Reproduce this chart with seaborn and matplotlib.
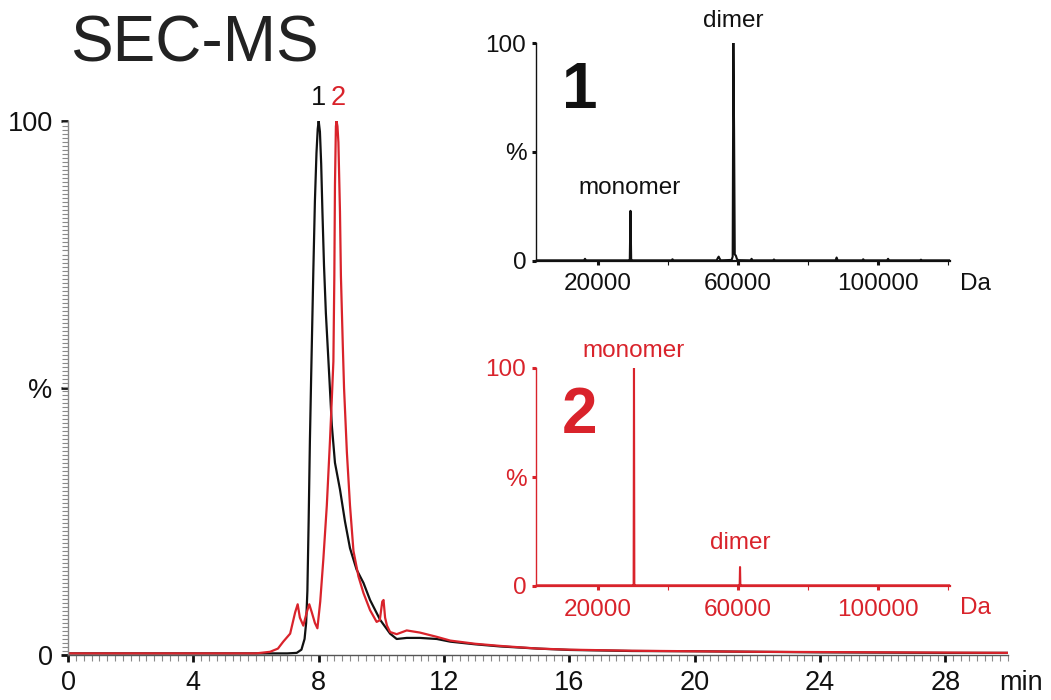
import matplotlib
matplotlib.use("Agg")
import matplotlib.pyplot as plt
from matplotlib.ticker import MultipleLocator, FixedLocator
import pandas as pd
import seaborn as sns

# ---- SEC chromatograms (relative intensity, %) ----
time_1 = [0.0, 2.0, 4.0, 6.0, 7.0, 7.3, 7.45, 7.55, 7.60, 7.64, 7.68, 7.72, 7.76,
          7.83, 7.88, 7.93, 7.97, 8.00, 8.04, 8.08, 8.12, 8.17, 8.23, 8.34, 8.42,
          8.52, 8.68, 8.84, 9.00, 9.21, 9.43, 9.64, 9.96, 10.28, 10.49, 10.81,
          11.23, 11.77, 12.2, 13.0, 13.8, 15.0, 16.0, 18.0, 20.0, 22.0, 24.0,
          26.0, 28.0, 30.0]
signal_1 = [0.3, 0.3, 0.3, 0.3, 0.3, 0.4, 1.0, 3.0, 6.0, 12.0, 25.0, 40.0, 52.0,
            72.0, 85.0, 94.0, 98.5, 100.0, 98.0, 92.0, 83.0, 73.0, 64.0, 52.0, 43.0,
            36.0, 31.0, 25.0, 20.0, 16.0, 13.5, 10.3, 6.6, 4.0, 3.0, 3.2,
            3.2, 3.0, 2.5, 2.0, 1.6, 1.2, 0.95, 0.75, 0.7, 0.6, 0.5,
            0.45, 0.4, 0.4]

time_2 = [0.0, 2.0, 4.0, 6.0, 6.45, 6.7, 6.87, 7.09, 7.25, 7.33, 7.40, 7.51, 7.62,
          7.70, 7.78, 7.88, 7.96, 8.05, 8.15, 8.26, 8.36, 8.42, 8.47, 8.50, 8.52,
          8.55, 8.57, 8.60, 8.63, 8.68, 8.71, 8.77, 8.81, 8.84, 8.90, 9.00, 9.11,
          9.27, 9.43, 9.64, 9.85, 9.95, 10.03, 10.07, 10.12, 10.18, 10.28, 10.49,
          10.81, 11.23, 11.77, 12.2, 13.0, 13.8, 15.0, 16.0, 18.0, 20.0, 22.0,
          24.0, 26.0, 28.0, 30.0]
signal_2 = [0.3, 0.3, 0.3, 0.3, 0.6, 1.2, 2.5, 4.0, 8.0, 9.5, 7.0, 5.5, 8.0,
            9.5, 8.0, 6.0, 5.0, 10.0, 18.0, 28.0, 40.0, 48.0, 55.0, 71.0, 88.0,
            99.0, 100.0, 99.0, 96.0, 83.0, 71.0, 58.0, 50.0, 46.0, 38.0, 28.0, 19.5,
            14.7, 11.6, 8.4, 6.2, 6.5, 10.0, 10.3, 7.0, 5.5, 4.3, 3.9,
            4.6, 4.2, 3.4, 2.7, 2.1, 1.7, 1.2, 1.0, 0.8, 0.7, 0.6,
            0.55, 0.5, 0.45, 0.4]

time_ticks = [0, 4, 8, 12, 16, 20, 24, 28]
pct_ticks = [0, 50, 100]
pct_labels = ["0", "%", "100"]

# ---- deconvoluted mass spectra (relative abundance, %) ----
mass_1 = [2300, 16000, 16300, 16600, 28900, 29100, 29300, 29500, 29700,
          41000, 41300, 41600, 53900, 54200, 54500, 54800, 55100,
          58200, 58500, 58700, 58900, 59100, 59400, 59700, 60000,
          63600, 63900, 64200, 70000, 70300, 70600, 87900, 88200, 88500,
          95500, 95800, 96100, 102600, 102900, 103200, 112000, 112300, 112600,
          120600]
abund_1 = [0.3, 0.3, 1.0, 0.3, 0.3, 0.5, 23.0, 0.5, 0.3,
           0.3, 0.8, 0.3, 0.3, 1.2, 2.0, 1.0, 0.3,
           0.5, 2.0, 100.0, 60.0, 3.0, 2.5, 1.0, 0.4,
           0.3, 1.0, 0.3, 0.3, 0.7, 0.3, 0.3, 1.6, 0.3,
           0.3, 0.8, 0.3, 0.3, 1.0, 0.3, 0.3, 0.6, 0.3,
           0.3]

mass_2 = [2300, 30000, 30200, 30300, 30400, 30600, 60300, 60500, 60600,
          60700, 60900, 120600]
abund_2 = [0.3, 0.3, 0.5, 100.0, 0.5, 0.3, 0.3, 0.5, 8.7,
           0.5, 0.3, 0.3]

mass_ticks = [20000, 60000, 100000]
mass_labels = ["20000", "60000", "100000"]
mass_minor = [40000, 80000, 120000]

BLACK = "#111111"
RED = "#d9232b"

sns.set_style("white")
plt.rcParams["font.family"] = ["Liberation Sans", "DejaVu Sans"]

fig = plt.figure(figsize=(10.51, 7.0), dpi=100)

# ---------------- main chromatogram ----------------
ax = fig.add_axes([68 / 1051, 1 - 655 / 700, (1008 - 68) / 1051, (655 - 121) / 700])
chrom = pd.concat([
    pd.DataFrame({"t": time_1, "s": signal_1, "sample": "1"}),
    pd.DataFrame({"t": time_2, "s": signal_2, "sample": "2"}),
])
sns.lineplot(data=chrom, x="t", y="s", hue="sample", palette={"1": BLACK, "2": RED},
             estimator=None, sort=False, linewidth=1.6, legend=False, ax=ax)
ax.set_xlim(0, 30)
ax.set_ylim(0, 100)
ax.set_xlabel("")
ax.set_ylabel("")
for side in ("top", "right"):
    ax.spines[side].set_visible(False)
ax.spines["left"].set_color("#8a8a8a")
ax.spines["left"].set_linewidth(1.0)
ax.spines["bottom"].set_color("#555555")
ax.spines["bottom"].set_linewidth(1.0)

ax.set_xticks(time_ticks)
ax.set_xticklabels([str(t) for t in time_ticks])
ax.xaxis.set_minor_locator(MultipleLocator(0.25))
ax.set_yticks(pct_ticks)
ax.set_yticklabels(pct_labels)
ax.yaxis.set_minor_locator(MultipleLocator(0.75))
ax.tick_params(axis="both", which="major", direction="out", length=5, width=2,
               color=BLACK, labelsize=19.5, labelcolor=BLACK)
ax.tick_params(axis="x", which="major", pad=6)
ax.tick_params(axis="y", which="major", pad=6)
ax.tick_params(axis="both", which="minor", direction="out", length=4, width=0.8,
               color="#8a8a8a")
ax.tick_params(bottom=True, left=True, which="both")

# peak labels above the two apexes
ax.text(time_1[signal_1.index(max(signal_1))], 104.3, "1", color=BLACK, fontsize=19.5,
        ha="center", va="center", clip_on=False)
ax.text(time_2[signal_2.index(max(signal_2))] + 0.05, 104.3, "2", color=RED, fontsize=19.5,
        ha="center", va="center", clip_on=False)
fig.text(1021 / 1051, 1 - 683 / 700, "min", fontsize=19.5, color=BLACK,
         ha="center", va="center")
fig.text(70 / 1051, 1 - 45 / 700, "SEC-MS", fontsize=46, color="#222222",
         ha="left", va="center")


# ---------------- mass spectra insets ----------------
def spectrum_axes(rect, mass, abund, color, tag, labels):
    a = fig.add_axes(rect)
    sns.lineplot(x=mass, y=abund, color=color, linewidth=1.5, estimator=None,
                 sort=False, ax=a)
    a.set_xlim(2300, 120600)
    a.set_ylim(0, 100)
    a.set_facecolor("none")
    for side in ("top", "right"):
        a.spines[side].set_visible(False)
    a.spines["left"].set_color(color)
    a.spines["left"].set_linewidth(1.0)
    a.spines["bottom"].set_color(color)
    a.spines["bottom"].set_linewidth(1.6)
    a.set_xticks(mass_ticks)
    a.set_xticklabels(mass_labels)
    a.xaxis.set_minor_locator(FixedLocator(mass_minor))
    a.set_yticks(pct_ticks)
    a.set_yticklabels(pct_labels)
    a.tick_params(axis="both", which="major", direction="out", length=3, width=2.2,
                  color=color, labelsize=17.5, labelcolor=color, pad=4)
    a.tick_params(axis="x", which="major", pad=6)
    a.tick_params(axis="both", which="minor", direction="out", length=3, width=0.8,
                  color=color)
    a.tick_params(bottom=True, left=True, which="both")
    a.text(0.105, 0.78, tag, transform=a.transAxes, fontsize=46, fontweight="bold",
           color=color, ha="center", va="center")
    for text, x, y in labels:
        a.text(x, y, text, fontsize=17.5, color=color, ha="center", va="center",
               clip_on=False)
    return a


ins1 = spectrum_axes([536 / 1051, 1 - 261 / 700, (950 - 536) / 1051, 218 / 700],
                     mass_1, abund_1, BLACK, "1",
                     [("dimer", 58700, 110), ("monomer", 29100, 33.5)])
ins2 = spectrum_axes([536 / 1051, 1 - 586 / 700, (950 - 536) / 1051, 218 / 700],
                     mass_2, abund_2, RED, "2",
                     [("monomer", 30300, 108), ("dimer", 60600, 19.7)])
fig.text(975 / 1051, 1 - 284 / 700, "Da", fontsize=17.5, color=BLACK,
         ha="center", va="center")
fig.text(975 / 1051, 1 - 608 / 700, "Da", fontsize=17.5, color=RED,
         ha="center", va="center")

fig.savefig("out.png", dpi=100, facecolor="white")
